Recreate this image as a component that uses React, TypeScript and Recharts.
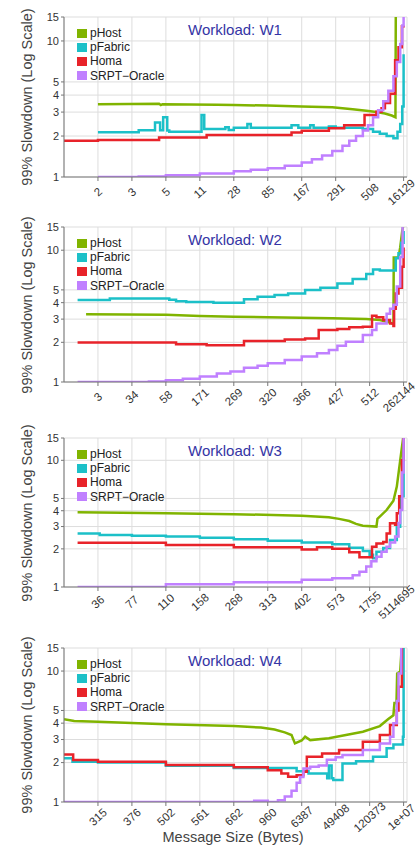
import { LineChart, Line, XAxis, YAxis, CartesianGrid, Legend } from "recharts";

type Pt = [number, number];

const FONT = '"Liberation Sans", Arial, sans-serif';
const X_TICKS = [10, 20, 30, 40, 50, 60, 70, 80, 90, 100];
const Y_TICKS = [1, 2, 3, 4, 5, 10, 15];
const SERIES_ORDER = ["pHost", "pFabric", "Homa", "SRPT−Oracle"];

// x = position along the message-size axis (percent of width), y = 99% slowdown
const W1_LABELS = ["2", "3", "5", "11", "28", "85", "167", "291", "508", "16129"];
const W1_PHOST: Pt[] = [[10, 3.42], [28, 3.45], [28.5, 3.38], [29, 3.43], [45, 3.4], [50, 3.38], [60, 3.35], [70, 3.3], [79, 3.25], [85, 3.15], [89, 3.07], [92, 3.0], [94.5, 2.93], [96.5, 2.83], [97.6, 2.75], [97.7, 16], [100, 16]];
const W1_PFABRIC: Pt[] = [[10, 2.13], [22, 2.21], [26.8, 2.52], [28.3, 2.21], [29.2, 2.75], [30.4, 2.2], [31, 2.15], [40.5, 2.85], [41.3, 2.25], [47.5, 2.32], [48.5, 2.22], [50, 2.3], [54, 2.45], [55, 2.3], [67, 2.4], [69, 2.3], [72.5, 2.4], [73.5, 2.3], [78, 2.35], [80, 2.3], [88, 2.25], [91, 2.15], [93, 2.08], [95, 2.0], [97, 1.93], [98.2, 2.15], [99, 2.45], [99.6, 3.3], [100, 8]];
const W1_HOMA: Pt[] = [[0, 1.85], [10, 1.87], [28, 1.95], [42, 2.04], [67, 2.12], [70, 2.19], [78, 2.28], [82.5, 2.4], [88.5, 2.85], [92, 3.02], [93.5, 3.2], [94.5, 3.5], [96, 4.1], [97.5, 7.2], [98.5, 9], [99.5, 12.8], [100, 13]];
const W1_SRPT: Pt[] = [[10, 1.0], [22, 1.01], [30, 1.03], [40, 1.06], [50, 1.1], [55, 1.13], [60, 1.16], [65, 1.21], [70, 1.28], [73, 1.35], [76, 1.44], [79, 1.55], [82, 1.7], [84, 1.85], [86, 2.0], [88, 2.2], [89.5, 2.4], [91, 2.75], [92.5, 3.1], [94, 3.6], [95.5, 4.3], [97, 5.5], [98, 7], [99, 9.5], [99.6, 13], [100, 16]];

const W2_LABELS = ["3", "34", "58", "171", "269", "320", "366", "427", "512", "262144"];
const W2_PHOST: Pt[] = [[6.5, 3.26], [30, 3.24], [40, 3.17], [50, 3.13], [60, 3.1], [79, 3.05], [89, 3.0], [93, 2.95], [96, 2.82], [97, 2.76], [97.1, 8.8], [98.5, 8.8], [99, 10.5], [99.6, 14], [100, 16]];
const W2_PFABRIC: Pt[] = [[4, 4.19], [13.5, 4.3], [31, 4.2], [33, 4.1], [36, 4.05], [44, 4.0], [53, 4.24], [57, 4.44], [62, 4.57], [66, 4.7], [71, 4.98], [75.5, 5.2], [80.5, 5.6], [85, 6.05], [89, 6.6], [91, 7.15], [93, 7.0], [97.7, 8.7], [98.5, 9.5], [99.3, 11.4], [100, 14]];
const W2_HOMA: Pt[] = [[4, 1.99], [30, 1.99], [33, 1.93], [42, 1.9], [53, 2.05], [65, 2.1], [71, 2.14], [75, 2.48], [80.5, 2.52], [84, 2.6], [88, 2.63], [90.7, 3.18], [92, 3.1], [94, 2.95], [96, 2.78], [97, 2.66], [97.2, 3.6], [97.7, 4.7], [98.5, 5.2], [99.5, 7.5], [100, 10.5]];
const W2_SRPT: Pt[] = [[4, 1.0], [25, 1.01], [30, 1.03], [35, 1.06], [40, 1.1], [45, 1.16], [49, 1.2], [53, 1.28], [57, 1.33], [60, 1.39], [65, 1.47], [70, 1.56], [74.5, 1.65], [78, 1.75], [80.5, 1.88], [83, 2.02], [88, 2.27], [90.7, 2.48], [92, 2.78], [95, 3.3], [96, 3.6], [97, 3.85], [98, 5.3], [99, 8.9], [99.7, 16], [100, 16]];

const W3_LABELS = ["36", "77", "110", "158", "268", "313", "402", "573", "1755", "5114695"];
const W3_PHOST: Pt[] = [[4, 3.89], [30, 3.82], [50, 3.76], [70, 3.65], [78, 3.55], [81, 3.45], [84, 3.32], [86, 3.15], [88, 3.05], [92, 3.0], [92.3, 3.45], [95, 4.05], [97, 4.8], [98, 6.2], [99, 10], [100, 16]];
const W3_PFABRIC: Pt[] = [[4, 2.65], [10.5, 2.57], [20, 2.54], [30, 2.5], [40, 2.45], [50, 2.38], [60, 2.32], [70, 2.25], [79, 2.17], [84, 2.04], [88, 1.92], [90, 1.8], [91, 1.69], [92, 1.9], [94, 2.03], [96, 2.35], [98, 2.99], [99, 5.2], [100, 14]];
const W3_HOMA: Pt[] = [[4, 2.24], [30, 2.15], [50, 2.06], [70, 1.98], [74.5, 2.06], [79, 2.0], [84, 1.88], [87, 1.72], [90.7, 2.08], [92, 2.2], [94, 2.27], [95, 2.65], [96, 3.18], [97.5, 3.1], [98, 3.82], [98.7, 5.2], [99.5, 10], [100, 16]];
const W3_SRPT: Pt[] = [[4, 1.0], [30, 1.05], [50, 1.09], [70, 1.14], [79, 1.17], [85, 1.24], [87, 1.32], [89, 1.45], [90.5, 1.6], [92, 1.73], [93.5, 1.9], [95, 2.08], [96, 2.25], [97.5, 2.5], [98.5, 3.2], [99, 4.05], [99.6, 8], [100, 16]];

const W4_LABELS = ["315", "376", "502", "561", "662", "960", "6387", "49408", "120373", "1e+07"];
const W4_PHOST: Pt[] = [[0, 4.28], [3, 4.15], [10, 4.1], [30, 3.92], [50, 3.8], [58, 3.7], [62, 3.58], [65, 3.4], [67, 3.25], [68, 2.8], [70, 2.95], [71, 3.15], [72.5, 2.97], [78, 3.07], [83, 3.25], [88, 3.44], [93, 3.8], [95.5, 4.3], [97, 4.6], [97.3, 5.7], [97.9, 5.7], [98.1, 9.6], [99, 9.9], [99.5, 16]];
const W4_PFABRIC: Pt[] = [[0, 2.16], [2.5, 2.03], [10, 2.0], [30, 1.89], [50, 1.82], [68.5, 1.72], [72, 1.65], [77.5, 1.52], [78, 1.9], [78.8, 1.52], [79.3, 1.47], [81.5, 1.47], [82, 1.97], [86, 2.05], [91, 2.22], [95, 2.57], [97, 2.75], [99.8, 3.15], [100, 16]];
const W4_HOMA: Pt[] = [[0, 2.31], [2.7, 2.09], [10, 2.03], [30, 1.92], [50, 1.84], [60, 1.75], [64, 1.65], [66, 1.56], [68.5, 1.6], [70.5, 1.7], [71.5, 2.22], [76, 2.35], [81, 2.49], [88, 2.88], [93, 3.25], [96, 3.88], [98, 5.0], [98.5, 7.6], [99.5, 16]];
const W4_SRPT: Pt[] = [[0, 1.0], [54, 1.0], [56, 1.02], [60, 1.0], [63, 1.03], [65, 1.1], [67, 1.22], [68.5, 1.4], [69.5, 1.55], [70.5, 1.8], [72.5, 1.86], [75, 1.9], [77.4, 2.1], [80, 2.2], [82, 2.29], [88, 2.49], [93, 2.8], [96, 3.15], [97, 4.0], [98, 5.9], [98.5, 9.6], [99.3, 16]];

const rows = (pts: Pt[]) => pts.map(([x, y]) => ({ x, y }));

const TICK_FS = 11.5;
const TICK_ANGLE = 42;

const XTick = ({ x, y, payload, labels }: any) => {
  const label = labels[X_TICKS.indexOf(payload.value)] ?? "";
  const a = (TICK_ANGLE * Math.PI) / 180;
  // keep the long last label inside the page
  const halfW = (label.length * 0.556 * TICK_FS) / 2;
  const ext = halfW * Math.cos(a) + (TICK_FS / 2) * Math.sin(a);
  const cx = x + Math.min(0, 417 - (x + ext));
  const cy = y + 9;
  return (
    <text x={cx} y={cy} textAnchor="middle" dominantBaseline="central" transform={`rotate(-${TICK_ANGLE} ${cx} ${cy})`}
      fontSize={TICK_FS} fill="#333" fontFamily={FONT}>
      {label}
    </text>
  );
};

const LegendBox = ({ payload }: any) => {
  const items = [...(payload || [])].sort((a: any, b: any) => SERIES_ORDER.indexOf(a.value) - SERIES_ORDER.indexOf(b.value));
  return (
    <div style={{ fontFamily: FONT, fontSize: 12, color: "#222" }}>
      {items.map((e: any) => (
        <div key={e.value} style={{ display: "flex", alignItems: "center", height: 14.1 }}>
          <span style={{ width: 10, height: 9, background: e.color, marginRight: 3 }} />
          {e.value}
        </div>
      ))}
    </div>
  );
};

function Panel({ top, plotH, title, labels, pHost, pFabric, homa, srpt }: any) {
  const h = plotH + 50;
  return (
    <div style={{ position: "absolute", left: 0, top: top - 5, width: 419, height: h }}>
      <LineChart width={419} height={h} margin={{ top: 5, right: 12, bottom: 15, left: 0 }}>
        <CartesianGrid stroke="#dddddd" />
        <XAxis type="number" dataKey="x" domain={[0, 101]} ticks={X_TICKS} interval={0} allowDataOverflow
          height={30} tickSize={4} tickMargin={2} axisLine={{ stroke: "#777" }} tickLine={{ stroke: "#777" }}
          tick={<XTick labels={labels} />} />
        <YAxis type="number" scale="log" domain={[1, 15]} ticks={Y_TICKS} interval={0} allowDataOverflow
          width={64} tickSize={3} tickMargin={2} axisLine={{ stroke: "#777" }} tickLine={{ stroke: "#777" }}
          tick={{ fontSize: 11, fill: "#333", fontFamily: FONT }} />
        <Legend layout="vertical" verticalAlign="middle" align="center" content={<LegendBox />}
          wrapperStyle={{ top: 14.2, left: 77, width: 120 }} />
        <Line data={rows(pHost)} dataKey="y" name="pHost" type="linear" stroke="#80b400" strokeWidth={2.5} dot={false} isAnimationActive={false} />
        <Line data={rows(pFabric)} dataKey="y" name="pFabric" type="stepAfter" stroke="#1cc0c8" strokeWidth={2.5} dot={false} isAnimationActive={false} />
        <Line data={rows(homa)} dataKey="y" name="Homa" type="stepAfter" stroke="#e8232a" strokeWidth={2.5} dot={false} isAnimationActive={false} />
        <Line data={rows(srpt)} dataKey="y" name="SRPT−Oracle" type="stepAfter" stroke="#c080ff" strokeWidth={2.5} dot={false} isAnimationActive={false} />
      </LineChart>
      <div style={{ position: "absolute", left: 188, top: 5 + 5.3, fontFamily: FONT, fontSize: 15, lineHeight: "15px", color: "#3535a5", whiteSpace: "nowrap" }}>
        {title}
      </div>
      <div style={{ position: "absolute", left: 27, top: 5 + plotH / 2, transform: "translate(-50%, -50%) rotate(-90deg)", fontFamily: FONT, fontSize: 14.5, color: "#444", whiteSpace: "nowrap" }}>
        99% Slowdown (Log Scale)
      </div>
    </div>
  );
}

export default function App() {
  return (
    <div style={{ position: "absolute", left: 0, top: 0, width: 419, height: 848, overflow: "hidden", background: "#fff" }}>
      <Panel top={17} plotH={160} title="Workload: W1" labels={W1_LABELS} pHost={W1_PHOST} pFabric={W1_PFABRIC} homa={W1_HOMA} srpt={W1_SRPT} />
      <Panel top={227} plotH={155} title="Workload: W2" labels={W2_LABELS} pHost={W2_PHOST} pFabric={W2_PFABRIC} homa={W2_HOMA} srpt={W2_SRPT} />
      <Panel top={438} plotH={149} title="Workload: W3" labels={W3_LABELS} pHost={W3_PHOST} pFabric={W3_PFABRIC} homa={W3_HOMA} srpt={W3_SRPT} />
      <Panel top={648} plotH={154} title="Workload: W4" labels={W4_LABELS} pHost={W4_PHOST} pFabric={W4_PFABRIC} homa={W4_HOMA} srpt={W4_SRPT} />
      <div style={{ position: "absolute", left: 0, width: 466, top: 830, textAlign: "center", fontFamily: FONT, fontSize: 14.5, lineHeight: "15px", color: "#444", whiteSpace: "nowrap" }}>
        Message Size (Bytes)
      </div>
    </div>
  );
}
